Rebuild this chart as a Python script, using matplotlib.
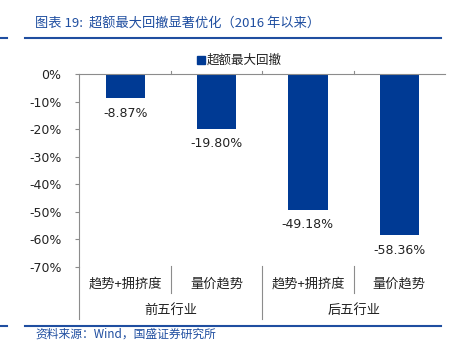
import matplotlib
matplotlib.use("Agg")
import matplotlib.pyplot as plt
from matplotlib import transforms
from matplotlib.lines import Line2D
from matplotlib.patches import Rectangle

# data
sub_labels = ["趋势+拥挤度", "量价趋势", "趋势+拥挤度", "量价趋势"]
group_labels = ["前五行业", "后五行业"]
drawdown = [-8.87, -19.80, -49.18, -58.36]
yticks = [0, -10, -20, -30, -40, -50, -60, -70]

BAR = "#003A94"
BLUE = "#1F4EA0"
GRID = "#8C8C8C"
CJK = ["Noto Sans CJK SC", "DejaVu Sans"]

W, H = 452, 351
fig = plt.figure(figsize=(W / 100, H / 100), dpi=100)


def fy(px):
    return 1 - px / H


def fx(px):
    return px / W


ax = fig.add_axes([fx(79.5), fy(267), fx(445) - fx(79.5), fy(74) - fy(267)])
x = list(range(len(drawdown)))
ax.bar(x, drawdown, width=0.43, color=BAR, zorder=2)
ax.set_xlim(-0.5, 3.5)
ax.set_ylim(-70, 0)
ax.set_yticks(yticks)
ax.set_yticklabels(["%d%%" % v for v in yticks], fontsize=9, color="#222222")
ax.tick_params(axis="y", direction="out", length=3, color=GRID, pad=10)
ax.set_xticks([])
for s in ["right", "bottom"]:
    ax.spines[s].set_visible(False)
ax.spines["left"].set_color(GRID)
ax.spines["top"].set_color(GRID)
ax.spines["top"].set_linewidth(0.8)
ax.spines["left"].set_linewidth(0.8)

for xi, v in zip(x, drawdown):
    ax.annotate("%.2f%%" % v, (xi, v), xytext=(0, -11), textcoords="offset points",
                ha="center", va="center", fontsize=9, color="#222222")

# category axis below the plot
tr = transforms.blended_transform_factory(ax.transData, fig.transFigure)
ax.add_line(Line2D([-0.5, -0.5], [fy(267), fy(319)], transform=tr, color=GRID,
                   lw=0.8, clip_on=False))
for b, long in [(0.5, False), (1.5, True), (2.5, False)]:
    ax.add_line(Line2D([b, b], [fy(266), fy(319 if long else 293)], transform=tr,
                       color=GRID, lw=0.8, clip_on=False))
    ax.add_line(Line2D([b, b], [fy(74), fy(71)], transform=tr, color=GRID,
                       lw=0.8, clip_on=False))
for xi, lab in zip(x, sub_labels):
    ax.text(xi, fy(284), lab, transform=tr, ha="center", va="center",
            fontsize=9.5, family=CJK, color="#222222")
for gi, lab in enumerate(group_labels):
    ax.text(0.5 + 2 * gi, fy(310), lab, transform=tr, ha="center", va="center",
            fontsize=9.5, family=CJK, color="#222222")

# legend
fig.patches.append(Rectangle((fx(197), fy(64)), fx(8), 8 / H, transform=fig.transFigure,
                             color=BAR))
fig.text(fx(207), fy(60), "超额最大回撤", ha="left", va="center", fontsize=9,
         family=CJK, color="#222222")

# header / footer
fig.text(fx(35), fy(24), "图表 19:  超额最大回撤显著优化（2016 年以来）", ha="left",
         va="center", fontsize=9.5, family=CJK, color=BLUE, style="italic")
for yy in [38, 326]:
    fig.add_artist(Line2D([fx(0), fx(7)], [fy(yy), fy(yy)], color=BLUE, lw=1.5))
    fig.add_artist(Line2D([fx(25), fx(441)], [fy(yy), fy(yy)], color=BLUE, lw=1.5))
fig.text(fx(35), fy(334), "资料来源：Wind，国盛证券研究所", ha="left", va="center",
         fontsize=8.5, family=CJK, color=BLUE, style="italic")

fig.savefig("out.png", dpi=100)
